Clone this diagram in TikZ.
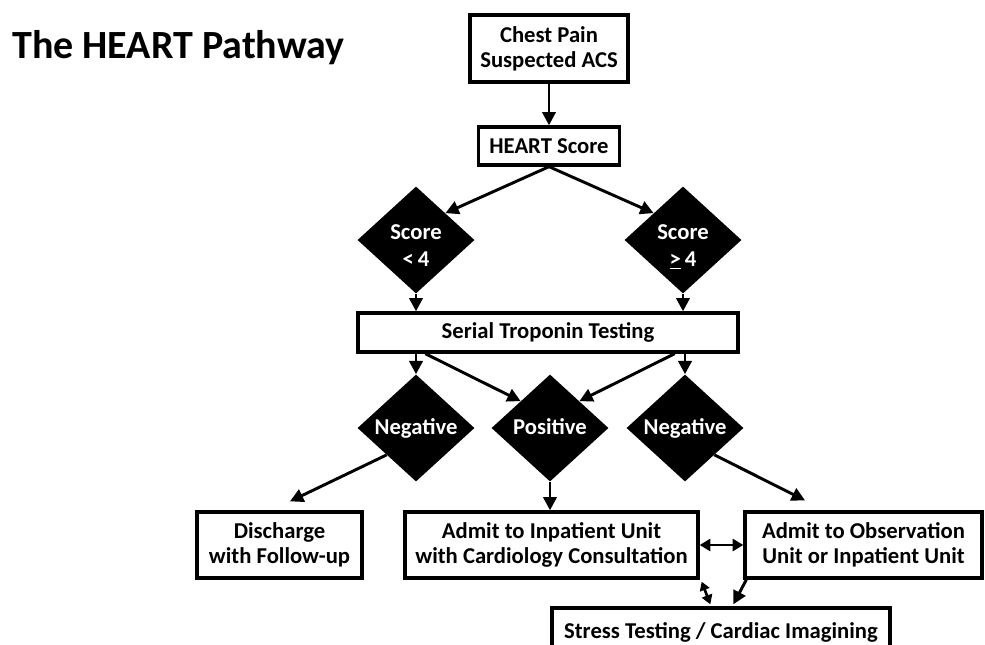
\documentclass[tikz,border=0pt]{standalone}
\usepackage{fontspec}
\setmainfont{Carlito}
\usetikzlibrary{shapes.geometric,arrows.meta,calc}
\begin{document}
\begin{tikzpicture}[x=0.75pt,y=-0.75pt,
  box/.style={draw=black, line width=2.5pt, fill=white, inner sep=0pt, align=center,
    font=\bfseries\fontsize{17}{19}\selectfont},
  dia/.style={diamond, fill=black, inner sep=0pt,
    minimum width=117*0.75pt, minimum height=107*0.75pt},
  diatext/.style={text=white, inner sep=0pt, align=center,
    font=\bfseries\fontsize{17}{20}\selectfont},
  arr/.style={line width=2.2pt, -{Triangle[length=10pt,width=10pt]}},
  darr/.style={line width=2.2pt, {Triangle[length=8pt,width=9pt]}-{Triangle[length=8pt,width=9pt]}}]
\useasboundingbox (0,0) rectangle (985,644);
\fill[white] (0,0) rectangle (985,644);
\clip (0,0) rectangle (985,644);

\node[anchor=base west, inner sep=0pt, font=\bfseries\fontsize{30}{32}\selectfont] (title) at (12,58) {The HEART Pathway};

\node[box, minimum width=158*0.75pt, minimum height=67*0.75pt] (chest) at (549,48.5) {Chest Pain\\Suspected ACS};
\node[box, minimum width=141*0.75pt, minimum height=38*0.75pt] (heart) at (549,146) {HEART Score};

\node[dia] (scoreL) at (416,240) {};
\node[diatext] (scoreLt) at (416,247) {Score\\{<}\,4\vphantom{\underline{>}}};
\node[dia] (scoreR) at (683,240) {};
\node[diatext] (scoreRt) at (683,247) {Score\\\underline{>}\,4};

\node[box, minimum width=380*0.75pt, minimum height=39*0.75pt] (serial) at (548,332.5) {Serial Troponin Testing};

\node[dia] (negL) at (416,428) {};
\node[diatext] (negLt) at (416,428) {Negative};
\node[dia] (pos) at (550,428) {};
\node[diatext] (post) at (550,428) {Positive\vphantom{g}};
\node[dia] (negR) at (685,428) {};
\node[diatext] (negRt) at (685,428) {Negative};

\node[box, minimum width=165*0.75pt, minimum height=66*0.75pt] (dis) at (279.5,545) {Discharge\\with Follow-up};
\node[box, minimum width=293*0.75pt, minimum height=66*0.75pt] (adm) at (551.5,545) {Admit to Inpatient Unit\\with Cardiology Consultation};
\node[box, minimum width=237*0.75pt, minimum height=66*0.75pt] (obs) at (863.5,545) {Admit to Observation\\Unit or Inpatient Unit};
\node[box, minimum width=338*0.75pt, minimum height=48*0.75pt] (stress) at (721,632) {Stress Testing / Cardiac Imagining};

% connectors
\draw[arr] (chest.south) -- (heart.north);
\draw[arr] (heart.south) -- (scoreL.north east);
\draw[arr] (heart.south) -- (scoreR.north west);
\draw[arr] (scoreL.south) -- (scoreL.south |- serial.north);
\draw[arr] (scoreR.south) -- (scoreR.south |- serial.north);
\draw[arr] (negL.north |- serial.south) -- (negL.north);
\draw[arr] (negR.north |- serial.south) -- (negR.north);
\coordinate (sp1) at ($(serial.south west)+(69,0)$);
\coordinate (sp2) at ($(serial.south east)+(-65,0)$);
\draw[arr] (sp1) -- (pos.north west);
\draw[arr] (sp2) -- (pos.north east);

\coordinate (disT) at ($(dis.north)+(10.5,-9)$);
\coordinate (obsT) at ($(obs.north)+(-58.5,-10)$);
\draw[arr] (negL.south west) -- (disT);
\draw[arr] (pos.south) -- (pos.south |- adm.north);
\draw[arr] (negR.south east) -- (obsT);

\draw[darr] (adm.east) -- (obs.west);

\coordinate (z0) at ($(adm.south east)+(2,2)$);
\coordinate (z3) at ($(stress.north west)+(160,-2)$);
\draw[line width=2pt, {Triangle[length=6.5pt,width=7.5pt]}-{Triangle[length=7pt,width=8pt]}] (z0) -- (z3);

\coordinate (o0) at ($(obs.south west)+(3,0)$);
\coordinate (o1) at ($(stress.north west)+(183,-2)$);
\draw[arr] (o0) -- (o1);
\end{tikzpicture}
\end{document}
